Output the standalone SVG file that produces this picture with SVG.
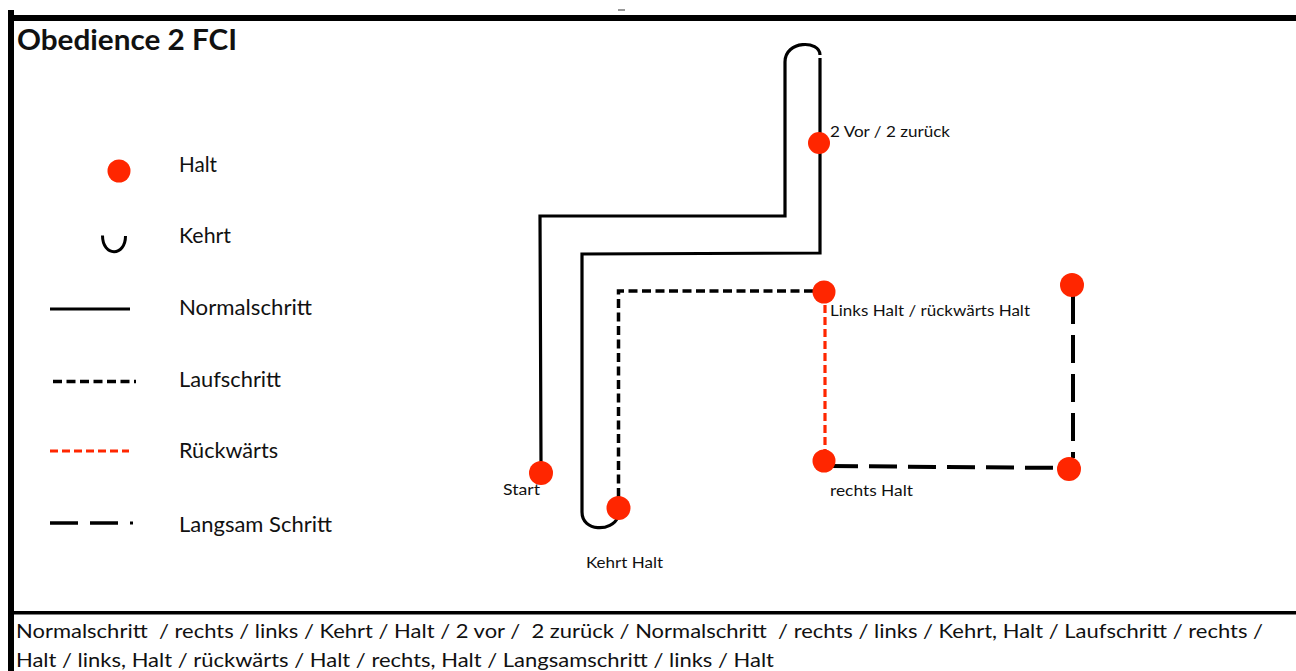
<svg xmlns="http://www.w3.org/2000/svg" width="1296" height="671" viewBox="0 0 1296 671">
<style>
  .t { font-family: Lato, "Open Sans", "Liberation Sans", sans-serif; fill: #111; }
  .leg { font-size: 21px; }
  .lbl { font-size: 15px; }
  .bot { font-size: 20px; }
  .halt { fill: #ff2600; }
  .normal { fill: none; stroke: #000; stroke-width: 3.2; stroke-linejoin: miter; }
  .lauf { fill: none; stroke: #000; stroke-width: 3.5; stroke-dasharray: 9 4.5; }
  .rueck { fill: none; stroke: #ff2600; stroke-width: 3.2; stroke-dasharray: 8 4; }
  .langsam { fill: none; stroke: #000; stroke-width: 4; stroke-dasharray: 28 11; }
</style>
<rect width="1296" height="671" fill="#fff"/>
<!-- frame -->
<g id="frame">
  <rect x="8" y="15" width="1288" height="6" fill="#000"/>
  <rect x="8" y="10" width="6" height="661" fill="#000"/>
  <rect x="10" y="611" width="1286" height="3.5" fill="#000"/>
  <line x1="618" y1="10" x2="625" y2="10" stroke="#333" stroke-width="1"/>
</g>
<text class="t" x="17" y="50" font-size="28" font-weight="bold" textLength="220" lengthAdjust="spacingAndGlyphs">Obedience 2 FCI</text>

<!-- legend -->
<g id="legend">
  <g id="legend-halt">
    <circle class="halt" cx="119" cy="171" r="11.5"/>
    <text class="t leg" x="179" y="172" textLength="38" lengthAdjust="spacingAndGlyphs">Halt</text>
  </g>
  <g id="legend-kehrt">
    <path d="M102.5,235.5 C102.5,257 125.5,257 125.5,236" fill="none" stroke="#000" stroke-width="3"/>
    <text class="t leg" x="179" y="243" textLength="52" lengthAdjust="spacingAndGlyphs">Kehrt</text>
  </g>
  <g id="legend-normal">
    <line class="normal" x1="50" y1="309" x2="130" y2="309"/>
    <text class="t leg" x="179" y="315" textLength="133" lengthAdjust="spacingAndGlyphs">Normalschritt</text>
  </g>
  <g id="legend-lauf">
    <line class="lauf" x1="53" y1="381.5" x2="136" y2="381.5"/>
    <text class="t leg" x="179" y="387" textLength="102" lengthAdjust="spacingAndGlyphs">Laufschritt</text>
  </g>
  <g id="legend-rueck">
    <line class="rueck" x1="50" y1="451" x2="129" y2="451"/>
    <text class="t leg" x="179" y="458" textLength="99" lengthAdjust="spacingAndGlyphs">Rückwärts</text>
  </g>
  <g id="legend-langsam">
    <line x1="50" y1="523" x2="78" y2="523" stroke="#000" stroke-width="3.5"/>
    <line x1="90" y1="523" x2="118" y2="523" stroke="#000" stroke-width="3.5"/>
    <rect x="130" y="521.5" width="3" height="3" fill="#000"/>
    <text class="t leg" x="179" y="532" textLength="153" lengthAdjust="spacingAndGlyphs">Langsam Schritt</text>
  </g>
</g>

<!-- connectors -->
<g id="connectors">
  <path class="normal" d="M541,462 L540,216 L785,216 L785,62 C785,40 820,40 820,55"/>
  <path class="normal" d="M820,58 L820,253 L582,254 L582,512 C582,532 612,532 618,517"/>
  <path class="lauf" d="M618.5,497 L618.5,291 L813,291"/>
  <path class="rueck" d="M825,305 L825,452"/>
  <path class="langsam" d="M830,466 L1069,468"/>
  <path class="langsam" d="M1073,296 L1073,458"/>
</g>

<!-- nodes -->
<g id="node-start">
  <circle class="halt" cx="541" cy="473" r="12"/>
  <text class="t lbl" x="503" y="495" textLength="37" lengthAdjust="spacingAndGlyphs">Start</text>
</g>
<g id="node-kehrt-halt">
  <circle class="halt" cx="618.5" cy="508" r="12"/>
  <text class="t lbl" x="586" y="568" textLength="77" lengthAdjust="spacingAndGlyphs">Kehrt Halt</text>
</g>
<g id="node-2vor">
  <circle class="halt" cx="819" cy="143" r="11"/>
  <text class="t lbl" x="830" y="137" textLength="120" lengthAdjust="spacingAndGlyphs">2 Vor / 2 zurück</text>
</g>
<g id="node-links-halt">
  <circle class="halt" cx="824" cy="292" r="11.5"/>
  <text class="t lbl" x="830" y="316" textLength="200" lengthAdjust="spacingAndGlyphs">Links Halt / rückwärts Halt</text>
</g>
<g id="node-rechts-halt">
  <circle class="halt" cx="824" cy="461" r="11.5"/>
  <text class="t lbl" x="830" y="496" textLength="83" lengthAdjust="spacingAndGlyphs">rechts Halt</text>
</g>
<g id="node-corner">
  <circle class="halt" cx="1069" cy="469" r="12"/>
</g>
<g id="node-end">
  <circle class="halt" cx="1072" cy="285" r="12"/>
</g>

<!-- bottom description -->
<g id="description">
  <text class="t bot" x="16" y="638" textLength="1247" lengthAdjust="spacingAndGlyphs" xml:space="preserve">Normalschritt  / rechts / links / Kehrt / Halt / 2 vor /  2 zurück / Normalschritt  / rechts / links / Kehrt, Halt / Laufschritt / rechts /</text>
  <text class="t bot" x="16" y="667" textLength="758" lengthAdjust="spacingAndGlyphs">Halt / links, Halt / rückwärts / Halt / rechts, Halt / Langsamschritt / links / Halt</text>
</g>
</svg>
